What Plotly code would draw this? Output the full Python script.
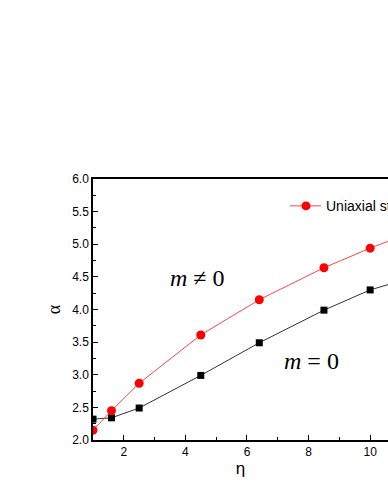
import plotly.graph_objects as go

eta = [1.0, 1.6, 2.5, 4.5, 6.4, 8.5, 10.0, 12.0]
alpha_uniaxial = [2.15, 2.45, 2.87, 3.61, 4.15, 4.64, 4.94, 5.30]
alpha_m0 = [2.32, 2.34, 2.49, 2.99, 3.49, 3.99, 4.30, 4.58]

x_ticks = [2, 4, 6, 8, 10]
y_ticks = [2.0, 2.5, 3.0, 3.5, 4.0, 4.5, 5.0, 5.5, 6.0]

fig = go.Figure()
fig.add_trace(go.Scatter(
    x=eta, y=alpha_m0, mode="lines+markers",
    line=dict(color="#333333", width=1),
    marker=dict(symbol="square", size=7, color="black"),
    showlegend=False, cliponaxis=True))
fig.add_trace(go.Scatter(
    x=eta, y=alpha_uniaxial, mode="lines+markers",
    line=dict(color="#ff4444", width=1),
    marker=dict(symbol="circle", size=9, color="#ff0000"),
    showlegend=False, cliponaxis=True))

# manual legend (legend is cut off at the right edge in the reference)
# plot area: x 93..388 (295 px), y 179..440 (261 px)
leg_y = 0.897
fig.add_shape(type="line", xref="paper", yref="paper", x0=0.668, x1=0.773,
              y0=leg_y, y1=leg_y, line=dict(color="#ff4444", width=1))
fig.add_shape(type="circle", xref="paper", yref="paper",
              x0=0.722 - 0.0153, x1=0.722 + 0.0153,
              y0=leg_y - 0.0172, y1=leg_y + 0.0172,
              fillcolor="#ff0000", line=dict(color="#ff0000", width=0))
fig.add_annotation(text="Uniaxial stress", xref="paper", yref="paper",
                   x=0.783, y=leg_y, xanchor="left", yanchor="middle",
                   showarrow=False, font=dict(family="Liberation Sans, Arial", size=14, color="black"))

fig.add_annotation(text="<i>m</i> ≠ 0", x=4.4, y=4.48, showarrow=False,
                   font=dict(family="Liberation Serif, Times New Roman", size=24, color="black"))
fig.add_annotation(text="<i>m</i> = 0", x=8.1, y=3.21, showarrow=False,
                   font=dict(family="Liberation Serif, Times New Roman", size=24, color="black"))

axis_font = dict(family="Liberation Sans, Arial", size=12, color="black")
fig.update_layout(
    width=388, height=502,
    margin=dict(l=93, r=0, t=179, b=62),
    paper_bgcolor="white", plot_bgcolor="white",
    hovermode=False,
    xaxis=dict(range=[1, 10.58], tickvals=x_ticks, ticks="inside", ticklen=5,
               tickwidth=1, tickcolor="black",
               minor=dict(tickvals=[1, 3, 5, 7, 9], ticks="inside", ticklen=3, tickcolor="black"),
               showline=True, linecolor="black", linewidth=1.5, mirror=True,
               showgrid=False, zeroline=False, tickfont=axis_font,
               title=dict(text="η", font=dict(family="Liberation Sans, Arial", size=17, color="black"), standoff=3)),
    yaxis=dict(range=[2.0, 6.0], tickvals=y_ticks, tickformat=".1f", ticks="inside", ticklen=5,
               tickwidth=1, tickcolor="black",
               minor=dict(dtick=0.25, ticks="inside", ticklen=3, tickcolor="black"),
               showline=True, linecolor="black", linewidth=1.5, mirror=False,
               showgrid=False, zeroline=False, tickfont=axis_font,
               title=dict(text="α", font=dict(family="Liberation Serif, Times New Roman", size=18, color="black"), standoff=7)),
)
fig.write_html("out.html", config={"displayModeBar": False},
               post_script="document.body.style.margin='0';")
